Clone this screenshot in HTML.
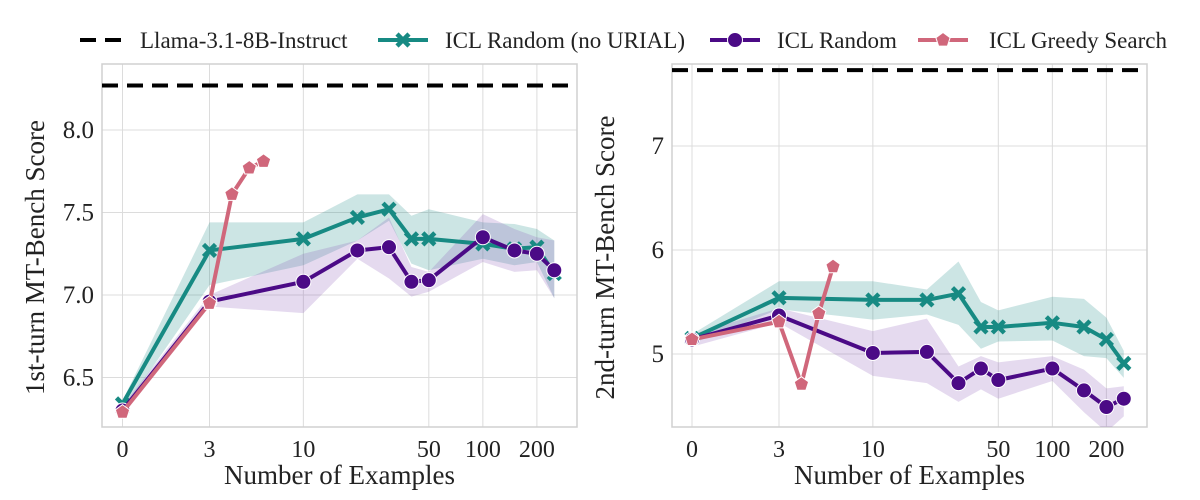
<!DOCTYPE html>
<html><head><meta charset="utf-8"><style>
body{margin:0;background:#fff;}
svg{display:block;font-family:"Liberation Serif",serif;}
</style></head><body>
<svg id="chart" width="1200" height="500" xmlns="http://www.w3.org/2000/svg"></svg>
<script>
const xVals = [0,3,10,20,30,40,50,100,150,200,250];
const greedyX = [0,3,4,5,6];
const xTicks = [0,3,10,50,100,200];
const baseline1 = 8.27;
const teal1 = [6.34,7.27,7.34,7.47,7.52,7.34,7.34,7.31,7.28,7.29,7.13];
const teal1Lo = [6.30,7.06,7.18,7.33,7.45,7.19,7.15,7.22,7.18,7.20,6.98];
const teal1Hi = [6.36,7.44,7.44,7.61,7.61,7.48,7.52,7.44,7.43,7.40,7.33];
const purple1 = [6.30,6.96,7.08,7.27,7.29,7.08,7.09,7.35,7.27,7.25,7.15];
const purple1Lo = [6.28,6.93,6.89,7.22,7.10,6.99,7.02,7.20,7.14,7.15,6.98];
const purple1Hi = [6.33,7.00,7.25,7.33,7.47,7.17,7.14,7.49,7.40,7.35,7.33];
const greedy1 = [6.29,6.95,7.61,7.77,7.81];
const yTicks1 = [6.5,7.0,7.5,8.0];
const baseline2 = 7.73;
const teal2 = [5.15,5.54,5.52,5.52,5.58,5.26,5.26,5.30,5.26,5.14,4.91];
const teal2Lo = [5.10,5.43,5.33,5.38,5.28,5.05,5.12,5.13,4.98,4.96,4.77];
const teal2Hi = [5.19,5.70,5.70,5.62,5.89,5.50,5.42,5.55,5.53,5.35,5.03];
const purple2 = [5.14,5.37,5.01,5.02,4.72,4.86,4.75,4.86,4.65,4.49,4.57];
const purple2Lo = [5.07,5.30,4.79,4.72,4.54,4.66,4.57,4.74,4.44,4.25,4.40];
const purple2Hi = [5.19,5.44,5.22,5.34,4.88,4.98,4.92,4.98,4.85,4.67,4.69];
const greedy2 = [5.14,5.31,4.71,5.39,5.84];
const yTicks2 = [5,6,7];

const NS="http://www.w3.org/2000/svg";
const svg=document.getElementById('chart');
function el(t,a,p){const e=document.createElementNS(NS,t);for(const k in a)e.setAttribute(k,a[k]);(p||svg).appendChild(e);return e;}
const TEAL="#178a83",PURPLE="#4b0a86",PINK="#d0677b";

function panel(o){
  const g=el('g',{});
  
  
  const L=o.left,R=L+475,T=64,B=427;
  const xp=v=> v===0 ? o.x3-87 : o.x3+Math.log10(v/3)*179.5;
  const yp=v=> o.yRef + (o.vRef - v)*o.ppu;
  const clip='clip'+o.name;
  const cp=el('clipPath',{id:clip},g);el('rect',{x:L,y:T,width:R-L,height:B-T},cp);
  xTicks.forEach(t=>{const l=el('line',{x1:xp(t),x2:xp(t),y1:T,y2:B,stroke:'#dcdcdc','stroke-width':1},g);
    
    const tx=el('text',{x:xp(t),y:457,'font-size':24,'text-anchor':'middle',fill:'#222'},g);tx.textContent=t;
    });
  o.yTicks.forEach(t=>{const l=el('line',{x1:L,x2:R,y1:yp(t),y2:yp(t),stroke:'#dcdcdc','stroke-width':1},g);
    
    const tx=el('text',{x:L-8,y:yp(t)+8,'font-size':25,'text-anchor':'end',fill:'#222'},g);tx.textContent=o.fmt(t);
    });
  const frame=el('rect',{x:L,y:T,width:R-L,height:B-T,fill:'none',stroke:'#d0d0d0','stroke-width':1.5},g);
  
  const cg=el('g',{'clip-path':`url(#${clip})`},g);
  function band(lo,hi,col,name){
    let d=xVals.map((x,i)=>(i?'L':'M')+xp(x)+','+yp(hi[i])).join('');
    for(let i=xVals.length-1;i>=0;i--)d+='L'+xp(xVals[i])+','+yp(lo[i]);
    const p=el('path',{d:d+'Z',fill:col,opacity:0.22},cg);
    
  }
  band(o.tLo,o.tHi,TEAL,'teal-ci-band');band(o.pLo,o.pHi,'#8a55b5','purple-ci-band');
  const bl=el('line',{x1:L,x2:R,y1:yp(o.base),y2:yp(o.base),stroke:'#000','stroke-width':4,'stroke-dasharray':'16 9'},g);
  
  function line(xs,ys,col,name){
    const p=el('polyline',{points:xs.map((x,i)=>xp(x)+','+yp(ys[i])).join(' '),fill:'none',stroke:col,'stroke-width':4,'stroke-linejoin':'round'},cg);
    
  }
  function xm(x,y){const s=6,m=el('path',{d:`M${x-s},${y-s}L${x+s},${y+s}M${x-s},${y+s}L${x+s},${y-s}`,stroke:TEAL,'stroke-width':4.5},cg);
    }
  line(xVals,o.teal,TEAL,'teal-line');
  xVals.forEach((x,i)=>xm(xp(x),yp(o.teal[i])));
  line(xVals,o.purple,PURPLE,'purple-line');
  xVals.forEach((x,i)=>{const c=el('circle',{cx:xp(x),cy:yp(o.purple[i]),r:7.5,fill:PURPLE,stroke:'#fff','stroke-width':1},cg);
    });
  line(greedyX,o.greedy,PINK,'pink-line');
  greedyX.forEach((x,i)=>{const cx=xp(x),cy=yp(o.greedy[i]),r=7.5;let pts=[];
    for(let k=0;k<5;k++){const a=-Math.PI/2+k*2*Math.PI/5;pts.push((cx+r*Math.cos(a))+','+(cy+r*Math.sin(a)));}
    const p=el('polygon',{points:pts.join(' '),fill:PINK,stroke:'#fff','stroke-width':1},cg);
    });
  const xl=el('text',{x:(L+R)/2,y:484,'font-size':27,'text-anchor':'middle',fill:'#222'},g);xl.textContent='Number of Examples';
  
  const yl=el('text',{x:0,y:0,'font-size':27,'text-anchor':'middle',fill:'#222',transform:`translate(${L-58},${(T+B)/2+12}) rotate(-90)`},g);yl.textContent=o.ylabel;
  
}
panel({name:'first-turn-panel',left:102,x3:209.5,yRef:130,vRef:8.0,ppu:165,yTicks:yTicks1,fmt:t=>t.toFixed(1),
  base:baseline1,teal:teal1,tLo:teal1Lo,tHi:teal1Hi,purple:purple1,pLo:purple1Lo,pHi:purple1Hi,greedy:greedy1,ylabel:'1st-turn MT-Bench Score'});
panel({name:'second-turn-panel',left:672,x3:779,yRef:146,vRef:7,ppu:104,yTicks:yTicks2,fmt:t=>String(t),
  base:baseline2,teal:teal2,tLo:teal2Lo,tHi:teal2Hi,purple:purple2,pLo:purple2Lo,pHi:purple2Hi,greedy:greedy2,ylabel:'2nd-turn MT-Bench Score'});

const lg=el('g',{});


function entry(x,label,col,kind,tx){
  const g=el('g',{},lg);
  
  
  if(kind==='dash')el('line',{x1:x,x2:x+42,y1:40,y2:40,stroke:'#000','stroke-width':4,'stroke-dasharray':'16 9'},g);
  else{el('line',{x1:x,x2:x+50,y1:40,y2:40,stroke:col,'stroke-width':4},g);
    const cx=x+25;
    if(kind==='x')el('path',{d:`M${cx-6},34L${cx+6},46M${cx-6},46L${cx+6},34`,stroke:col,'stroke-width':4.5},g);
    if(kind==='o')el('circle',{cx:cx,cy:40,r:7.5,fill:col,stroke:'#fff'},g);
    if(kind==='p'){let pts=[];for(let k=0;k<5;k++){const a=-Math.PI/2+k*2*Math.PI/5;pts.push((cx+7.5*Math.cos(a))+','+(40+7.5*Math.sin(a)));}
      el('polygon',{points:pts.join(' '),fill:col,stroke:'#fff'},g);}
  }
  const t=el('text',{x:tx,y:48,'font-size':23,fill:'#222'},g);t.textContent=label;
}
entry(80,'Llama-3.1-8B-Instruct','#000','dash',140);
entry(378,'ICL Random (no URIAL)',TEAL,'x',445);
entry(710,'ICL Random',PURPLE,'o',777);
entry(918,'ICL Greedy Search',PINK,'p',989);
</script>
</body></html>
